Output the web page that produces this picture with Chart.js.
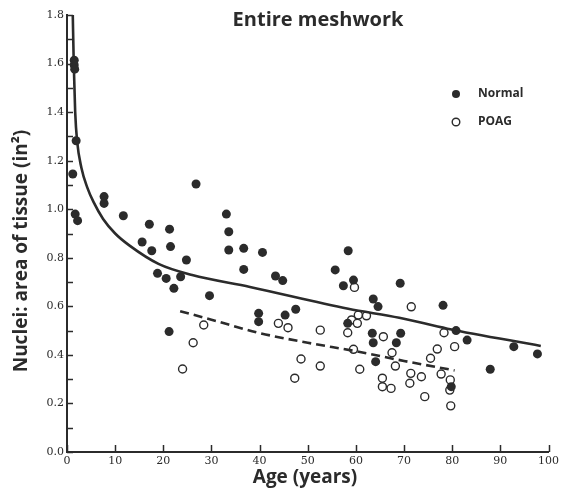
<!DOCTYPE html>
<html><head><meta charset="utf-8">
<script src="https://cdn.jsdelivr.net/npm/chart.js@4/dist/chart.umd.min.js"></script>
<style>html,body{margin:0;padding:0;background:#fff}#wrap{width:562px;height:494px;position:relative}</style>
</head><body><div id="wrap"><canvas id="c" width="562" height="494"></canvas></div>
<script>
const chartTitle = "Entire meshwork";
const xTitle = "Age (years)";
const yTitle = "Nuclei: area of tissue (in²)";
const legendLabels = ["Normal", "POAG"];

const normalAge = [1.5,1.5,1.6,1.9,1.2,1.7,2.2,7.7,7.7,11.7,17.1,21.3,15.6,21.5,17.6,24.8,18.8,20.6,23.6,22.2,26.8,29.6,21.2,33.1,33.6,33.6,36.7,40.6,36.7,43.3,44.8,39.8,39.8,45.3,47.5,58.4,55.7,57.4,59.5,69.2,63.6,64.6,78.1,58.3,63.4,63.6,69.3,68.4,64.1,80.8,83.1,92.8,97.7,87.9,79.8];
const normalVal = [1.614,1.594,1.577,1.282,1.145,0.98,0.953,1.052,1.024,0.973,0.938,0.918,0.865,0.846,0.829,0.791,0.736,0.715,0.722,0.674,1.104,0.644,0.496,0.98,0.907,0.832,0.839,0.822,0.752,0.725,0.706,0.571,0.537,0.564,0.588,0.829,0.750,0.685,0.708,0.695,0.630,0.599,0.604,0.530,0.489,0.450,0.489,0.450,0.372,0.50,0.461,0.434,0.404,0.341,0.269];

const poagAge = [59.7,71.5,43.9,45.9,52.6,60.5,62.2,59.1,60.3,58.3,65.7,78.3,80.5,76.9,75.5,71.4,71.2,73.6,77.7,79.6,79.5,74.3,79.7,59.5,67.5,48.6,68.2,52.6,60.8,47.3,65.5,65.5,67.3,28.4,26.2,24.0];
const poagVal = [0.678,0.598,0.530,0.512,0.502,0.564,0.561,0.544,0.530,0.491,0.475,0.491,0.434,0.424,0.386,0.324,0.283,0.310,0.321,0.297,0.255,0.228,0.19,0.423,0.409,0.383,0.354,0.354,0.341,0.304,0.304,0.269,0.262,0.523,0.450,0.342];

const normalFitAge = [1.2,1.4,1.7,2.1,3.0,4.2,5.5,7.5,10,13,19,26,38,58.4,69,79,98.4];
const normalFitVal = [1.8,1.6,1.4,1.28,1.17,1.09,1.03,0.96,0.9,0.85,0.775,0.729,0.68,0.59,0.553,0.508,0.437];

const poagFitAge = [23.5,30,40,50,60,70,80.5];
const poagFitVal = [0.58,0.545,0.49,0.45,0.415,0.375,0.336];

const xTicks = [0,10,20,30,40,50,60,70,80,90,100];

const ink = '#2b2b2b';
const pts = (xs, ys) => xs.map((x, i) => ({x: x, y: ys[i]}));

const overlay = {
  id: 'overlay',
  afterDraw(chart) {
    const ctx = chart.ctx, xs = chart.scales.x, ys = chart.scales.y;
    ctx.save();
    ctx.strokeStyle = ink; ctx.lineWidth = 1.5;
    ys.ticks.forEach(t => {
      const py = Math.round(ys.getPixelForValue(t.value)) + 0.5;
      ctx.beginPath(); ctx.moveTo(xs.left, py); ctx.lineTo(xs.left + 6, py); ctx.stroke();
    });
    xs.ticks.forEach(t => {
      const px = Math.round(xs.getPixelForValue(t.value)) + 0.5;
      ctx.beginPath(); ctx.moveTo(px, ys.bottom); ctx.lineTo(px, ys.bottom - 7); ctx.stroke();
    });
    ctx.fillStyle = ink;
    ctx.textAlign = 'center'; ctx.textBaseline = 'middle';
    ctx.font = 'bold 20px "Open Sans"';
    ctx.fillText(chartTitle, 318, 20);
    ctx.font = 'bold 19px "Open Sans"';
    ctx.fillText(xTitle, 305, 478);
    ctx.save();
    ctx.translate(22, 251); ctx.rotate(-Math.PI / 2);
    ctx.fillText(yTitle, 0, 0);
    ctx.restore();
    ctx.textAlign = 'left';
    ctx.font = 'bold 12px "Open Sans"';
    ctx.beginPath(); ctx.arc(456, 94, 4, 0, Math.PI * 2); ctx.fill();
    ctx.fillText(legendLabels[0], 478, 94);
    ctx.lineWidth = 1.4;
    ctx.beginPath(); ctx.arc(456, 122, 3.8, 0, Math.PI * 2); ctx.stroke();
    ctx.fillText(legendLabels[1], 478, 122);
    ctx.restore();
  }
};

new Chart(document.getElementById('c'), {
  type: 'scatter',
  data: {
    datasets: [
      {label: 'Normal fit', data: pts(normalFitAge, normalFitVal), showLine: true, pointRadius: 0, borderColor: ink, borderWidth: 2.6, cubicInterpolationMode: 'monotone', fill: false},
      {label: 'POAG fit', data: pts(poagFitAge, poagFitVal), showLine: true, pointRadius: 0, borderColor: ink, borderWidth: 2.6, borderDash: [9, 5], cubicInterpolationMode: 'monotone', fill: false},
      {label: legendLabels[0], data: pts(normalAge, normalVal), pointRadius: 4.5, pointBackgroundColor: ink, pointBorderColor: ink, pointBorderWidth: 0},
      {label: legendLabels[1], data: pts(poagAge, poagVal), pointRadius: 4, pointBackgroundColor: '#fff', pointBorderColor: ink, pointBorderWidth: 1.4}
    ]
  },
  options: {
    responsive: false, animation: false, events: [],
    layout: {padding: {top: 15, right: 11, left: 0, bottom: 0}},
    plugins: {legend: {display: false}, tooltip: {enabled: false}, title: {display: false}},
    scales: {
      x: {
        type: 'linear', min: 0, max: 100,
        afterBuildTicks: s => { s.ticks = xTicks.map(v => ({value: v})); },
        afterFit: s => { s.height = 42; },
        grid: {display: true, drawOnChartArea: false, drawTicks: false},
        border: {display: true, color: ink, width: 2},
        ticks: {color: ink, padding: 3, font: {family: '"DejaVu Serif"', size: 11}, callback: v => String(v)}
      },
      y: {
        type: 'linear', min: 0, max: 1.8,
        ticks: {stepSize: 0.1, color: ink, padding: 3, font: {family: '"DejaVu Serif"', size: 11},
          callback: (v, i) => (i % 2 === 0 ? Number(v).toFixed(1) : '')},
        afterFit: s => { s.width = 67; },
        grid: {display: true, drawOnChartArea: false, drawTicks: false},
        border: {display: true, color: ink, width: 2}
      }
    }
  },
  plugins: [overlay]
});
</script></body></html>
